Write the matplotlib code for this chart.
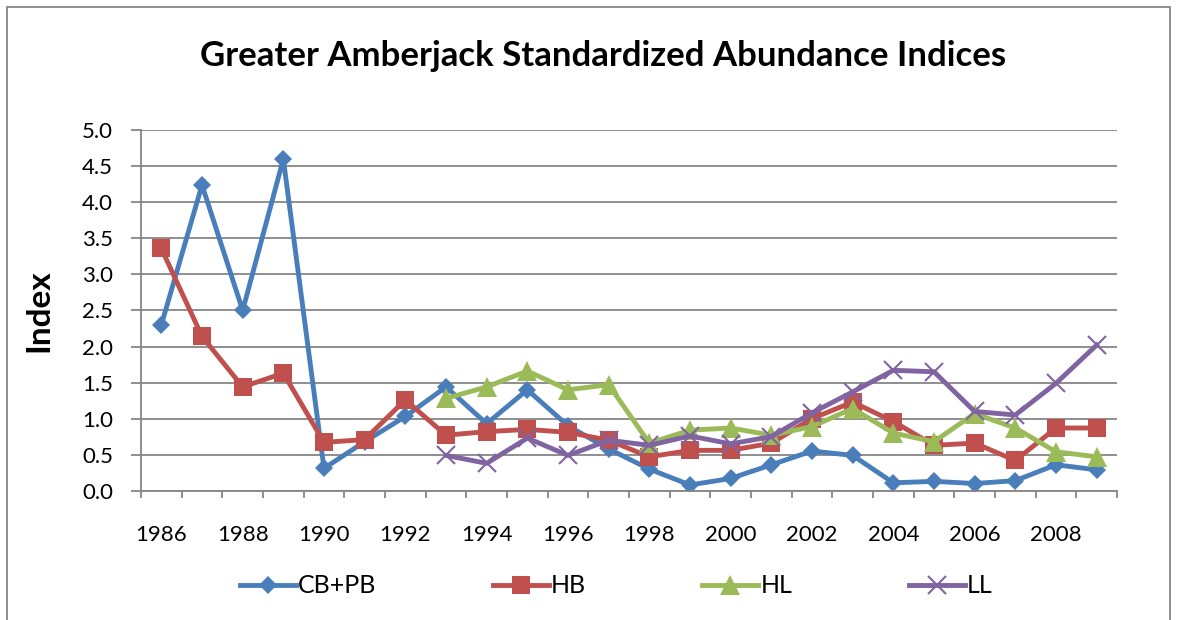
import matplotlib.pyplot as plt
import numpy as np
from matplotlib.patches import Rectangle

plt.rcParams['font.family'] = ['Lato', 'DejaVu Sans']

years = list(range(1986, 2010))

cb_pb = [2.30, 4.24, 2.50, 4.60, 0.31, 0.68, 1.03, 1.44, 0.93, 1.40, 0.90, 0.58,
         0.30, 0.08, 0.17, 0.36, 0.55, 0.49, 0.11, 0.13, 0.10, 0.14, 0.36, 0.29]
hb = [3.36, 2.14, 1.44, 1.63, 0.67, 0.71, 1.26, 0.77, 0.82, 0.85, 0.81, 0.70,
      0.47, 0.56, 0.56, 0.66, 1.00, 1.23, 0.96, 0.63, 0.66, 0.42, 0.87, 0.87]
hl = [None] * 7 + [1.28, 1.44, 1.66, 1.40, 1.47, 0.66, 0.84, 0.87, 0.77, 0.89,
                   1.14, 0.80, 0.68, 1.07, 0.87, 0.54, 0.47]
ll = [None] * 7 + [0.49, 0.38, 0.73, 0.49, 0.70, 0.63, 0.76, 0.65, 0.75, 1.08,
                   1.37, 1.67, 1.65, 1.10, 1.05, 1.49, 2.02]

series = [
    ("CB+PB", cb_pb, "#4A7EBB", "D", 9.5),
    ("HB", hb, "#C0504D", "s", 13.5),
    ("HL", hl, "#9BBB59", "^", 14),
    ("LL", ll, "#8064A2", "x", 13),
]

fig = plt.figure(figsize=(11.77, 6.2), dpi=100)
ax = fig.add_axes([0.1198, 0.2085, 0.8292, 0.5815])

x = np.arange(len(years))
for name, vals, col, mk, ms in series:
    y = np.array([np.nan if v is None else v for v in vals])
    ax.plot(x, y, color=col, lw=3.5, marker=mk, ms=ms, mew=1.5 if mk == "x" else 0,
            mfc=col, mec=col, label=name)

ax.set_xlim(-0.5, len(years) - 0.5)
ax.set_ylim(0, 5.0)
ax.set_yticks(np.arange(0, 5.01, 0.5))
ax.set_yticklabels([f"{v:.1f}" for v in np.arange(0, 5.01, 0.5)])
ax.yaxis.grid(True, color="#868686", lw=1.3)
ax.set_axisbelow(True)

# category boundaries get tick marks, labels sit at centres
ax.set_xticks(np.arange(-0.5, len(years), 1.0))
ax.set_xticklabels([])
ax.set_xticks(x[::2], minor=True)
ax.set_xticklabels([str(yr) for yr in years[::2]], minor=True)
ax.tick_params(axis="x", which="major", length=5, color="#868686", width=1.3)
ax.tick_params(axis="x", which="minor", length=0, pad=25, labelsize=16)
ax.tick_params(axis="y", length=7, color="#868686", width=1.3, labelsize=16, pad=13)

for s in ["top", "right"]:
    ax.spines[s].set_visible(False)
for s in ["left", "bottom"]:
    ax.spines[s].set_color("#868686")
    ax.spines[s].set_linewidth(1.3)

ax.set_ylabel("Index", fontsize=24, fontweight="bold")
ax.yaxis.set_label_coords(-88 / 976, 0.50)
fig.text(0.512, 0.91, "Greater Amberjack Standardized Abundance Indices",
         ha="center", va="center", fontsize=25, fontweight="bold")

ax.legend(loc="center", bbox_to_anchor=(0.487, -0.264), ncol=4, frameon=False,
          fontsize=18, handlelength=2.24, columnspacing=4.64, handletextpad=0.1)

fig.patches.append(Rectangle((7 / 1177, -0.1), 1163 / 1177, 1.1 - 7 / 620,
                             transform=fig.transFigure, fill=False,
                             edgecolor="#868686", lw=1.3))

plt.savefig("out.png", dpi=100)
